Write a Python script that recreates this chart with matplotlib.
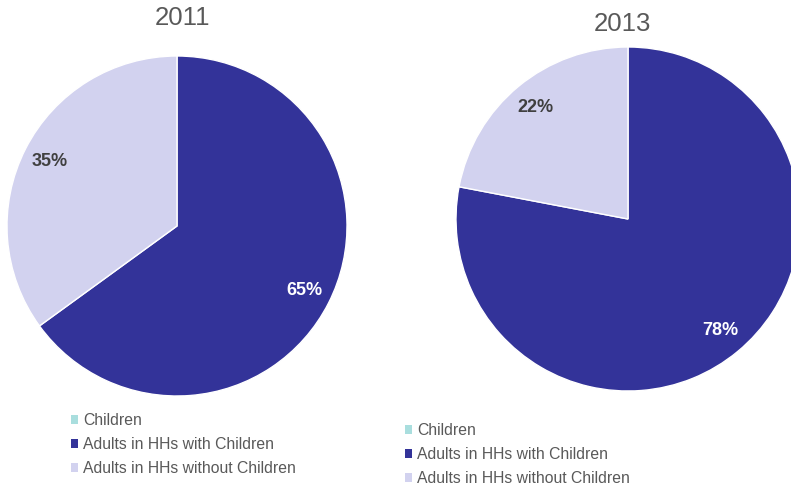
import matplotlib.pyplot as plt

plt.rcParams['font.family'] = ['Liberation Sans', 'DejaVu Sans']

categories = ["Children", "Adults in HHs with Children", "Adults in HHs without Children"]
colors = ["#a9dede", "#333399", "#d2d2ef"]
label_colors = ["#404040", "white", "#404040"]
years = ["2011", "2013"]
shares_2011 = [0, 65, 35]
shares_2013 = [0, 78, 22]

fig = plt.figure(figsize=(7.91, 4.86), dpi=100)

W, H = 791, 486
# axes boxes in pixels: left, top, size
boxes = [(7, 56, 340), (456, 47, 344)]
title_pos = [(183, 18), (622, 24)]
legend_pos = [(71, 413), (405, 423)]


def pct(v):
    return "" if v < 0.5 else f"{v:.0f}%"


for year, shares, (l, t, s), (tx, ty), (lx, ly) in zip(
        years, [shares_2011, shares_2013], boxes, title_pos, legend_pos):
    ax = fig.add_axes([l / W, (H - t - s) / H, s / W, s / H])
    wedges, texts, autotexts = ax.pie(
        shares, colors=colors, startangle=90, counterclock=False,
        autopct=pct, pctdistance=0.84,
        wedgeprops=dict(edgecolor="white", linewidth=1),
        textprops=dict(fontsize=13, fontweight="bold"))
    for at, c in zip(autotexts, label_colors):
        at.set_color(c)
    ax.set_xlim(-1, 1)
    ax.set_ylim(-1, 1)
    ax.set_aspect("equal")
    fig.text(tx / W, 1 - ty / H, year, ha="center", va="center",
             fontsize=18.5, color="#595959")
    leg = fig.legend(wedges, categories, loc="upper left",
                     bbox_to_anchor=(lx / W, 1 - ly / H), frameon=False,
                     fontsize=11.3, labelcolor="#595959", handlelength=0.45,
                     handleheight=0.45, handletextpad=0.3, labelspacing=0.58,
                     borderpad=0, borderaxespad=0)
    for h in leg.legend_handles:
        h.set_edgecolor("none")

fig.savefig("out.png", dpi=100)
